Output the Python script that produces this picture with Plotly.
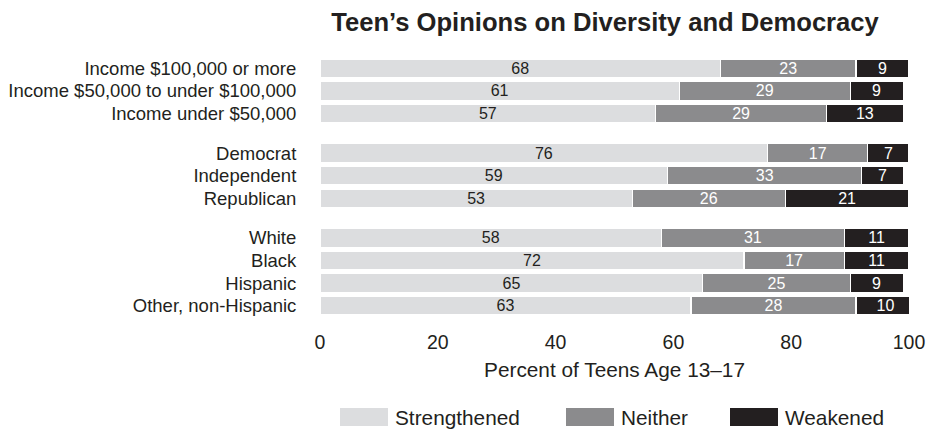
import plotly.graph_objects as go

# Survey groups (top to bottom) and their answer shares, in percent
categories = [
    "Income $100,000 or more",
    "Income $50,000 to under $100,000",
    "Income under $50,000",
    "Democrat",
    "Independent",
    "Republican",
    "White",
    "Black",
    "Hispanic",
    "Other, non-Hispanic",
]
strengthened = [68, 61, 57, 76, 59, 53, 58, 72, 65, 63]
neither = [23, 29, 29, 17, 33, 26, 31, 17, 25, 28]
weakened = [9, 9, 13, 7, 7, 21, 11, 11, 9, 10]

# Row positions: three blocks (income, party, race) separated by a gap
row_pos = [0, 1, 2, 3.75, 4.75, 5.75, 7.5, 8.5, 9.5, 10.5]

x_ticks = [0, 20, 40, 60, 80, 100]

series = [
    ("Strengthened", strengthened, "#dcdddf", "#231f20"),
    ("Neither", neither, "#8b8b8d", "#ffffff"),
    ("Weakened", weakened, "#231f20", "#ffffff"),
]

FONT = "Liberation Sans, Arial, Helvetica, sans-serif"
INK = "#231f20"

fig = go.Figure()
for name, vals, color, txtcolor in series:
    fig.add_trace(go.Bar(
        name=name,
        y=row_pos,
        x=vals,
        orientation="h",
        width=0.83,
        marker=dict(color=color, line=dict(color="white", width=1.2)),
        text=vals,
        texttemplate="%{x}",
        textposition="inside",
        insidetextanchor="middle",
        textangle=0,
        textfont=dict(family=FONT, size=16, color=txtcolor),
        constraintext="none",
        showlegend=False,
        hoverinfo="skip",
    ))

# Plot-area box in pixels
W, H = 934, 429
plot_l, plot_r = 320, 909
plot_t, plot_b = 57, 317
pw = plot_r - plot_l
ph = plot_b - plot_t


def px_x(v):
    return (v - plot_l) / pw


def px_y(v):
    return (plot_b - v) / ph


# Legend drawn as wide swatches with labels below the x axis title
legend_swatch_x = [340, 566, 730]
sw_w = 48
sw_top, sw_bot = 408, 426
shapes = []
annotations = []
for (name, _, color, _), sx in zip(series, legend_swatch_x):
    shapes.append(dict(
        type="rect", xref="paper", yref="paper",
        x0=px_x(sx), x1=px_x(sx + sw_w),
        y0=px_y(sw_bot), y1=px_y(sw_top),
        fillcolor=color, line=dict(width=0),
    ))
    annotations.append(dict(
        xref="paper", yref="paper",
        x=px_x(sx + sw_w + 5), y=px_y((sw_top + sw_bot) / 2),
        text=name, showarrow=False, xanchor="left", yanchor="middle",
        font=dict(family=FONT, size=20.8, color=INK),
    ))

fig.update_layout(
    barmode="stack",
    width=W,
    height=H,
    margin=dict(l=plot_l, r=W - plot_r, t=plot_t, b=H - plot_b,
                autoexpand=False),
    paper_bgcolor="white",
    plot_bgcolor="white",
    font=dict(family=FONT, color=INK),
    title=dict(
        text="<b>Teen’s Opinions on Diversity and Democracy</b>",
        x=605 / W, xref="container", xanchor="center",
        y=1 - 22 / H, yref="container", yanchor="middle",
        font=dict(family=FONT, size=25.6, color=INK),
    ),
    xaxis=dict(
        range=[0, 100],
        tickvals=x_ticks,
        ticktext=[str(t) for t in x_ticks],
        showgrid=False,
        zeroline=False,
        showline=False,
        automargin=False,
        ticks="outside",
        ticklen=8,
        tickcolor="rgba(0,0,0,0)",
        tickfont=dict(family=FONT, size=19.5, color=INK),
        title=dict(text="Percent of Teens Age 13–17", standoff=10,
                   font=dict(family=FONT, size=20.8, color=INK)),
    ),
    yaxis=dict(
        range=[11.0, -0.5],
        tickvals=row_pos,
        ticktext=categories,
        showgrid=False,
        zeroline=False,
        showline=False,
        automargin=False,
        ticks="outside",
        ticklen=19,
        tickcolor="rgba(0,0,0,0)",
        tickfont=dict(family=FONT, size=18.5, color=INK),
    ),
    shapes=shapes,
    annotations=annotations,
)

fig.write_html("out.html")
